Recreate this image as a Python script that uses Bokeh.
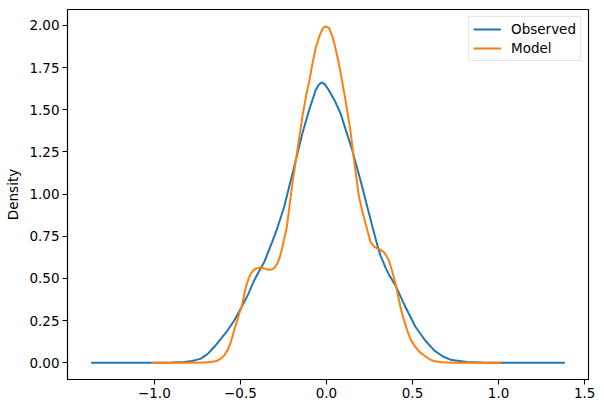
from bokeh.plotting import figure
from bokeh.models import FixedTicker, Range1d, Legend, LegendItem
from bokeh.embed import file_html
from bokeh.resources import INLINE

# Observed KDE
obs_x = [-1.367, -1.0, -0.9, -0.826, -0.78, -0.729, -0.69, -0.652, -0.615, -0.574,
         -0.536, -0.493, -0.455, -0.420, -0.39, -0.362, -0.314, -0.285, -0.246, -0.188,
         -0.140, -0.101, -0.063, -0.045, -0.028, -0.01, 0.014, 0.05, 0.082, 0.115,
         0.150, 0.198, 0.222, 0.246, 0.266, 0.295, 0.314, 0.343, 0.362, 0.405,
         0.459, 0.517, 0.575, 0.629, 0.68, 0.720, 0.817, 0.9, 1.0, 1.385]
obs_y = [0.0, 0.0, 0.001, 0.004, 0.01, 0.024, 0.052, 0.093, 0.14, 0.192,
         0.25, 0.330, 0.405, 0.488, 0.545, 0.595, 0.72, 0.80, 0.923, 1.161,
         1.359, 1.497, 1.616, 1.648, 1.662, 1.652, 1.616, 1.55, 1.478, 1.372,
         1.26, 1.08, 0.985, 0.89, 0.81, 0.70, 0.635, 0.565, 0.525, 0.45,
         0.33, 0.213, 0.13, 0.07, 0.035, 0.018, 0.004, 0.001, 0.0, 0.0]

# Model KDE
mod_x = [-1.019, -0.8, -0.72, -0.671, -0.64, -0.613, -0.595, -0.574, -0.555, -0.536,
         -0.507, -0.493, -0.468, -0.452, -0.439, -0.425, -0.410, -0.395, -0.381, -0.362,
         -0.343, -0.328, -0.314, -0.30, -0.285, -0.27, -0.256, -0.231, -0.198, -0.169,
         -0.140, -0.115, -0.101, -0.08, -0.063, -0.04, -0.02, -0.005, 0.015, 0.035,
         0.053, 0.075, 0.092, 0.11, 0.125, 0.140, 0.153, 0.169, 0.189, 0.208,
         0.227, 0.256, 0.276, 0.295, 0.314, 0.333, 0.348, 0.362, 0.380, 0.401,
         0.430, 0.450, 0.469, 0.49, 0.517, 0.545, 0.575, 0.60, 0.63, 0.67, 0.75, 1.017]
mod_y = [0.0, 0.0, 0.001, 0.004, 0.01, 0.024, 0.042, 0.073, 0.125, 0.192,
         0.291, 0.330, 0.449, 0.50, 0.528, 0.548, 0.558, 0.563, 0.564, 0.559,
         0.552, 0.551, 0.554, 0.565, 0.588, 0.63, 0.686, 0.800, 1.062, 1.26,
         1.458, 1.60, 1.665, 1.78, 1.863, 1.94, 1.985, 1.995, 1.985, 1.935,
         1.863, 1.76, 1.665, 1.56, 1.468, 1.37, 1.26, 1.135, 0.985, 0.90,
         0.825, 0.716, 0.69, 0.677, 0.67, 0.656, 0.635, 0.607, 0.55, 0.469,
         0.330, 0.255, 0.192, 0.135, 0.093, 0.06, 0.038, 0.02, 0.008, 0.002, 0.0, 0.0]

series_names = ["Observed", "Model"]
series_colors = ["#1f77b4", "#ff7f0e"]

x_ticks = [-1.0, -0.5, 0.0, 0.5, 1.0, 1.5]
x_tick_labels = ["\u22121.0", "\u22120.5", "0.0", "0.5", "1.0", "1.5"]
y_ticks = [0.0, 0.25, 0.5, 0.75, 1.0, 1.25, 1.5, 1.75, 2.0]
y_tick_labels = ["0.00", "0.25", "0.50", "0.75", "1.00", "1.25", "1.50", "1.75", "2.00"]

# matplotlib-like 5% margins
all_x = obs_x + mod_x
all_y = obs_y + mod_y
xspan = max(all_x) - min(all_x)
yspan = max(all_y) - min(all_y)
xr = Range1d(min(all_x) - 0.05 * xspan, max(all_x) + 0.05 * xspan)
yr = Range1d(min(all_y) - 0.05 * yspan, max(all_y) + 0.05 * yspan)

FONT = "DejaVu Sans"
FS = "13.5px"

p = figure(width=604, height=411, x_range=xr, y_range=yr,
           output_backend="svg", toolbar_location=None,
           min_border_left=67, min_border_top=9, min_border_right=16, min_border_bottom=32)

p.xgrid.visible = False
p.ygrid.visible = False
p.outline_line_color = "black"
p.outline_line_width = 1.1
p.outline_line_alpha = 1.0
p.background_fill_color = "white"
p.border_fill_color = "white"

r1 = p.line(obs_x, obs_y, line_color=series_colors[0], line_width=2)
r2 = p.line(mod_x, mod_y, line_color=series_colors[1], line_width=2)

for ax in (p.xaxis[0], p.yaxis[0]):
    ax.axis_line_color = "black"
    ax.axis_line_width = 1.1
    ax.major_tick_line_color = "black"
    ax.major_tick_line_width = 1.1
    ax.major_tick_out = 5
    ax.major_tick_in = 0
    ax.minor_tick_line_color = None
    ax.major_label_text_font = FONT
    ax.major_label_text_font_size = FS
    ax.major_label_text_color = "black"
    ax.major_label_standoff = 3
    ax.axis_label_text_font = FONT
    ax.axis_label_text_font_size = FS
    ax.axis_label_text_font_style = "normal"
    ax.axis_label_text_color = "black"

p.xaxis[0].ticker = FixedTicker(ticks=x_ticks)
p.xaxis[0].major_label_overrides = {t: l for t, l in zip(x_ticks, x_tick_labels)}
p.yaxis[0].ticker = FixedTicker(ticks=y_ticks)
p.yaxis[0].major_label_overrides = {t: l for t, l in zip(y_ticks, y_tick_labels)}
p.yaxis[0].axis_label = "Density"
p.yaxis[0].axis_label_standoff = 5

legend = Legend(items=[LegendItem(label=series_names[0], renderers=[r1]),
                       LegendItem(label=series_names[1], renderers=[r2])],
                location="top_right")
legend.label_text_font = FONT
legend.label_text_font_size = FS
legend.label_text_color = "black"
legend.glyph_width = 28
legend.glyph_height = 12
legend.label_height = 12
legend.label_standoff = 10
legend.spacing = 3
legend.padding = 4
legend.margin = 7
legend.border_line_color = "#cccccc"
legend.border_line_width = 1
legend.background_fill_alpha = 0.8
p.add_layout(legend)

open("out.html", "w").write(file_html(p, INLINE))
